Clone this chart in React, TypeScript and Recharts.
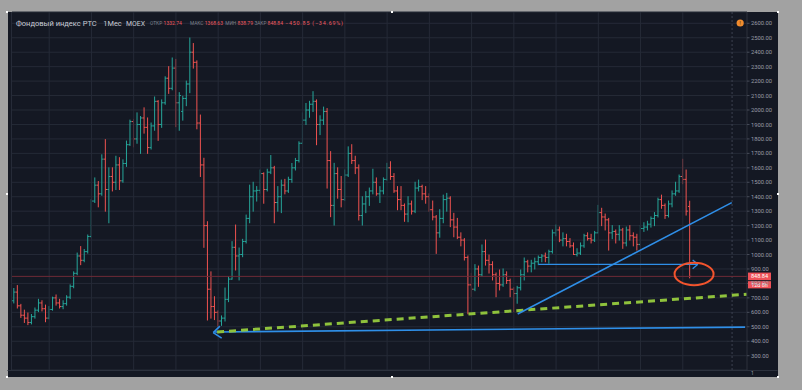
import React from "react";
import {
  ComposedChart,
  Bar,
  XAxis,
  YAxis,
  CartesianGrid,
  ReferenceLine,
  ReferenceDot,
} from "recharts";

// ---- Data: monthly OHLC bars [open, high, low, close], first bar = March 2004 ----
const START_YEAR = 2004;
const START_MONTH = 3;

const bars2004 = [
  [680, 765, 665, 740], [740, 785, 630, 645], [645, 655, 565, 580], [580, 615, 530, 560],
  [560, 595, 515, 530], [530, 585, 520, 570], [570, 630, 560, 615], [615, 690, 605, 665],
  [665, 680, 610, 625], [625, 650, 535, 560],
];
const bars2005 = [
  [560, 640, 555, 620], [620, 705, 615, 700], [700, 720, 650, 665], [665, 690, 630, 640],
  [640, 680, 625, 660], [660, 715, 650, 705], [705, 790, 695, 780], [780, 880, 770, 870],
  [870, 1010, 860, 990], [990, 1055, 930, 960], [960, 1035, 950, 1020], [1020, 1135, 1010, 1125],
];
const bars2006 = [
  [1125, 1380, 1120, 1370], [1370, 1530, 1360, 1480], [1480, 1505, 1330, 1420], [1420, 1690, 1410, 1660],
  [1660, 1795, 1300, 1450], [1450, 1600, 1220, 1540], [1540, 1600, 1440, 1500], [1500, 1680, 1450, 1620],
  [1620, 1670, 1450, 1510], [1510, 1655, 1500, 1630], [1630, 1785, 1610, 1760], [1760, 1930, 1755, 1920],
];
const bars2007 = [
  [1920, 1935, 1745, 1800], [1800, 1980, 1770, 1900], [1900, 1955, 1700, 1945], [1945, 2015, 1840, 1880],
  [1880, 1945, 1700, 1740], [1740, 1910, 1730, 1890], [1890, 2090, 1860, 2060], [2060, 2065, 1790, 1900],
  [1900, 2070, 1880, 2050], [2050, 2230, 2040, 2220], [2220, 2300, 2115, 2150], [2150, 2360, 2140, 2290],
];
const bars2008 = [
  [2290, 2350, 1885, 2050], [2050, 2120, 1860, 2100], [1990, 2095, 1930, 2080], [2080, 2200, 2030, 2180],
  [2180, 2498, 2120, 2400], [2400, 2460, 2290, 2330], [2330, 2340, 1870, 1910], [1910, 1965, 1540, 1620],
  [1620, 1666, 1050, 1200], [1200, 1227, 547, 760], [760, 880, 560, 640], [640, 708, 550, 600],
];
const bars2009 = [
  [600, 610, 505, 540], [540, 575, 510, 560], [560, 768, 540, 690], [690, 847, 674, 830],
  [830, 1089, 830, 1050], [1050, 1204, 893, 990], [990, 1045, 824, 1000], [1000, 1105, 985, 1090],
  [1090, 1273, 1080, 1250], [1250, 1480, 1220, 1400], [1400, 1500, 1300, 1440], [1440, 1470, 1370, 1444],
];
const bars2010 = [
  [1444, 1585, 1425, 1560], [1560, 1565, 1355, 1450], [1450, 1590, 1440, 1570], [1570, 1685, 1560, 1600],
  [1600, 1610, 1220, 1360], [1360, 1470, 1300, 1400], [1400, 1515, 1290, 1480], [1480, 1520, 1420, 1440],
  [1440, 1535, 1430, 1520], [1520, 1630, 1500, 1600], [1600, 1665, 1585, 1650], [1650, 1780, 1640, 1770],
];
const bars2011 = [
  [1770, 1980, 1770, 1930], [1930, 2045, 1900, 2000], [2000, 2060, 1950, 2040], [2040, 2127, 1990, 2060],
  [2060, 2070, 1760, 1900], [1900, 1960, 1830, 1930], [1930, 2020, 1900, 1990], [1990, 2010, 1460, 1650],
  [1650, 1712, 1262, 1340], [1340, 1631, 1204, 1560], [1560, 1600, 1390, 1450], [1450, 1540, 1330, 1380],
];
const bars2012 = [
  [1380, 1585, 1375, 1550], [1550, 1745, 1540, 1700], [1700, 1760, 1630, 1650], [1650, 1680, 1560, 1600],
  [1600, 1620, 1239, 1270], [1270, 1400, 1204, 1350], [1350, 1435, 1290, 1400], [1400, 1460, 1340, 1440],
  [1440, 1590, 1420, 1500], [1500, 1530, 1410, 1420], [1420, 1470, 1360, 1440], [1440, 1530, 1420, 1520],
];
const bars2013 = [
  [1520, 1631, 1515, 1600], [1600, 1642, 1520, 1540], [1540, 1560, 1430, 1440], [1440, 1470, 1310, 1380],
  [1380, 1470, 1310, 1340], [1340, 1350, 1230, 1280], [1280, 1400, 1227, 1350], [1350, 1370, 1280, 1300],
  [1300, 1500, 1290, 1460], [1460, 1515, 1440, 1470], [1470, 1480, 1380, 1420], [1420, 1470, 1355, 1400],
];
const bars2014 = [
  [1400, 1420, 1300, 1310], [1310, 1370, 1240, 1260], [1260, 1270, 1008, 1150], [1150, 1310, 1120, 1250],
  [1250, 1411, 1220, 1380], [1380, 1423, 1300, 1390], [1390, 1400, 1193, 1240], [1240, 1285, 1123, 1190],
  [1190, 1250, 1110, 1120], [1120, 1150, 1060, 1100], [1100, 1110, 962, 980], [980, 990, 590, 790],
];
const bars2015 = [
  [790, 870, 710, 760], [760, 930, 750, 900], [900, 920, 780, 860], [860, 1066, 850, 1020],
  [1020, 1100, 927, 960], [960, 996, 872, 930], [930, 950, 824, 860], [860, 872, 708, 800],
  [800, 893, 755, 790], [790, 900, 780, 860], [860, 880, 800, 820], [820, 830, 708, 760],
];
const bars2016 = [
  [760, 770, 605, 730], [730, 780, 663, 770], [770, 893, 755, 860], [860, 976, 824, 950],
  [950, 960, 880, 920], [920, 960, 880, 940], [940, 975, 900, 950], [950, 990, 930, 980],
  [980, 1000, 950, 990], [990, 1010, 950, 980], [980, 1030, 940, 1020], [1020, 1170, 1010, 1150],
];
const bars2017 = [
  [1150, 1204, 1130, 1170], [1170, 1190, 1089, 1100], [1100, 1150, 1060, 1110], [1110, 1140, 1060, 1090],
  [1090, 1110, 1050, 1060], [1060, 1080, 1000, 1000], [1000, 1040, 990, 1010], [1010, 1080, 1000, 1060],
  [1060, 1140, 1050, 1130], [1130, 1150, 1100, 1110], [1110, 1140, 1080, 1100], [1100, 1160, 1090, 1150],
];
const bars2018 = [
  [1150, 1340, 1150, 1290], [1290, 1320, 1200, 1260], [1260, 1280, 1170, 1240], [1240, 1250, 1031, 1150],
  [1150, 1200, 1110, 1160], [1160, 1170, 1080, 1140], [1140, 1200, 1100, 1170], [1170, 1181, 1043, 1080],
  [1080, 1190, 1060, 1170], [1170, 1200, 1100, 1130], [1130, 1150, 1060, 1120], [1120, 1140, 1031, 1070],
];
const bars2019 = [
  [1070, 1200, 1060, 1180], [1180, 1220, 1160, 1190], [1190, 1230, 1170, 1210], [1210, 1260, 1190, 1250],
  [1250, 1290, 1200, 1270], [1270, 1390, 1260, 1380], [1380, 1411, 1320, 1340], [1340, 1350, 1250, 1270],
  [1270, 1370, 1260, 1350], [1350, 1440, 1330, 1420], [1420, 1500, 1410, 1440], [1440, 1550, 1430, 1540],
];
const bars2020 = [
  [1540, 1659, 1490, 1520], [1520, 1585, 1273, 1300], [1332.74, 1368.63, 838.79, 848.84],
];

const priceTicks = [
  300, 400, 500, 600, 700, 800, 900, 1000, 1100, 1200, 1300, 1400, 1500,
  1600, 1700, 1800, 1900, 2000, 2100, 2200, 2300, 2400, 2500, 2600,
];

const LAST_PRICE = 848.84;
const TIMER_TEXT = "12d 8h";

// header texts
const headerTitle = [
  { text: "Фондовый индекс РТС", x0: 16, x1: 96.7 },
  { text: "1Мес", x0: 103.3, x1: 121.7 },
  { text: "MOEX", x0: 126, x1: 145 },
];
// label (grey) and value (red) pairs: [label, labelX, value, valueX]
const headerOhlc: [string, number, string, number][] = [
  ["ОТКР", 150, "1332.74", 163.6],
  ["МАКС", 190, "1368.63", 204.8],
  ["МИН", 225.2, "838.79", 237.6],
  ["ЗАКР", 254.4, "848.84", 267.6],
];
const headerChange = "−450.85 (−34.69%)";

// drawn annotations (in data coordinates: bar index, price)
const BLUE = "#2f8fe8";
const GREEN = "#8fc23c";
const trendLines = [
  { from: [57.1, 464], to: [207.7, 498], color: BLUE, width: 1.6, dash: undefined },
  { from: [56.6, 460], to: [58.5, 505], color: BLUE, width: 1.6, dash: undefined },
  { from: [56.6, 460], to: [59.0, 421], color: BLUE, width: 1.6, dash: undefined },
  { from: [57.7, 464], to: [208.2, 725], color: GREEN, width: 3, dash: "7 5" },
  { from: [143.1, 588], to: [203.9, 1359], color: BLUE, width: 1.6, dash: undefined },
  { from: [149.0, 932], to: [194.3, 932], color: BLUE, width: 1.3, dash: undefined },
  { from: [194.3, 932], to: [192.8, 962], color: BLUE, width: 1.3, dash: undefined },
  { from: [194.3, 932], to: [192.8, 902], color: BLUE, width: 1.3, dash: undefined },
];
const circleMark = { x: 193.2, y: 865 };
const FUTURE_LINE_X = 204;
const EVENT_MARK = { x: 206.3, y: 2602 };

// ---- build chart data ----
const allBars = [
  ...bars2004, ...bars2005, ...bars2006, ...bars2007, ...bars2008, ...bars2009,
  ...bars2010, ...bars2011, ...bars2012, ...bars2013, ...bars2014, ...bars2015,
  ...bars2016, ...bars2017, ...bars2018, ...bars2019, ...bars2020,
];
const data = allBars.map((b, i) => {
  const m0 = START_MONTH - 1 + i;
  const year = START_YEAR + Math.floor(m0 / 12);
  const month = (m0 % 12) + 1;
  return { i, year, month, o: b[0], h: b[1], l: b[2], c: b[3], range: [b[2], b[1]] };
});
const yearStartIdx = data.filter((d) => d.month === 1).map((d) => d.i);

const X_DOMAIN: [number, number] = [-0.568, 208.24];
const Y_DOMAIN: [number, number] = [201.0, 2678.2];

const UP = "#26a69a";
const DOWN = "#ef5350";

const OhlcShape = (props: any) => {
  const { x, y, width, height, payload } = props;
  if (!payload || x == null || y == null) return null;
  const top = Math.min(y, y + height);
  const bot = Math.max(y, y + height);
  const span = payload.h - payload.l || 1;
  const py = (v: number) => top + ((payload.h - v) / span) * (bot - top);
  const cx = x + width / 2;
  const color = payload.c >= payload.o ? UP : DOWN;
  return (
    <g stroke={color} strokeWidth={1}>
      <line x1={cx} x2={cx} y1={top - 0.5} y2={bot + 0.5} />
      <line x1={cx - 1.7} x2={cx} y1={py(payload.o)} y2={py(payload.o)} />
      <line x1={cx} x2={cx + 1.7} y1={py(payload.c)} y2={py(payload.c)} />
    </g>
  );
};

const PriceTags = (props: any) => {
  const { cx, cy } = props;
  if (cx == null || cy == null) return null;
  const x = cx + 1;
  return (
    <g>
      <rect x={x} y={cy - 3.8} width={23} height={7.6} fill="#ef5158" />
      <text x={x + 11.5} y={cy + 2} fontSize={5.6} fill="#ffffff" textAnchor="middle" fontFamily="Roboto">
        {LAST_PRICE.toFixed(2)}
      </text>
      <rect x={x} y={cy + 4.8} width={23} height={7.2} fill="#ef5158" />
      <text x={x + 11.5} y={cy + 10.4} fontSize={5.4} fill="#ffffff" textAnchor="middle" fontFamily="Roboto">
        {TIMER_TEXT}
      </text>
    </g>
  );
};

const handles = [
  [7, 12], [392, 12], [778, 12], [7, 194], [778, 194], [7, 377], [392, 377], [778, 377],
];

export default function App() {
  return (
    <div
      style={{
        position: "absolute",
        left: 0,
        top: 0,
        width: 802,
        height: 390,
        background: "#a2a2a2",
        overflow: "hidden",
      }}
    >
      <div
        style={{
          position: "absolute",
          left: 7.5,
          top: 12,
          width: 770,
          height: 365,
          background: "#141823",
        }}
      />
      <div style={{ position: "absolute", left: 0, top: 0 }}>
        <ComposedChart
          width={802}
          height={390}
          data={data}
          margin={{ top: 12, right: 25, bottom: 20, left: 12 }}
        >
          <CartesianGrid vertical={false} stroke="#252a37" strokeWidth={1} />
          <XAxis
            type="number"
            dataKey="i"
            domain={X_DOMAIN}
            allowDataOverflow
            hide
          />
          <YAxis
            orientation="right"
            width={30}
            domain={Y_DOMAIN}
            allowDataOverflow
            ticks={priceTicks}
            interval={0}
            tickFormatter={(v: number) => v.toFixed(2)}
            tick={{ fill: "#9a9da7", fontSize: 5.8, fontFamily: "Roboto" }}
            tickSize={2.5}
            tickMargin={1.5}
            axisLine={{ stroke: "#2c313d" }}
            tickLine={{ stroke: "#464b58" }}
          />
          {yearStartIdx.map((i) => (
            <ReferenceLine key={"g" + i} x={i} stroke="#252a37" strokeWidth={1} />
          ))}
          <ReferenceLine
            x={FUTURE_LINE_X}
            stroke="#3d4250"
            strokeWidth={1}
            strokeDasharray="2 2"
          />
          <ReferenceLine y={LAST_PRICE} stroke="#6e2a36" strokeWidth={1} />
          <Bar
            dataKey="range"
            barSize={4}
            isAnimationActive={false}
            shape={(p: any) => <OhlcShape {...p} />}
          />
          {trendLines.map((t, k) => (
            <ReferenceLine
              key={"t" + k}
              segment={[
                { x: t.from[0], y: t.from[1] },
                { x: t.to[0], y: t.to[1] },
              ]}
              stroke={t.color}
              strokeWidth={t.width}
              strokeDasharray={t.dash}
              ifOverflow="visible"
            />
          ))}
          <ReferenceDot
            x={circleMark.x}
            y={circleMark.y}
            r={10}
            ifOverflow="visible"
            shape={(p: any) => (
              <ellipse
                cx={p.cx}
                cy={p.cy}
                rx={19.5}
                ry={11.2}
                fill="none"
                stroke="#f2542d"
                strokeWidth={2}
              />
            )}
          />
          <ReferenceDot
            x={EVENT_MARK.x}
            y={EVENT_MARK.y}
            r={3.6}
            ifOverflow="visible"
            shape={(p: any) => (
              <g>
                <circle cx={p.cx} cy={p.cy} r={3.6} fill="#f08c2e" />
                <text x={p.cx} y={p.cy + 1.8} fontSize={5} fill="#3a2000" textAnchor="middle" fontFamily="Roboto">!</text>
              </g>
            )}
          />
          <ReferenceDot
            x={X_DOMAIN[1]}
            y={LAST_PRICE}
            r={1}
            ifOverflow="visible"
            shape={(p: any) => <PriceTags {...p} />}
          />
        </ComposedChart>
      </div>
      <svg
        width={802}
        height={390}
        style={{ position: "absolute", left: 0, top: 0, pointerEvents: "none" }}
      >
        <line x1={11.5} x2={11.5} y1={12} y2={370} stroke="#262b38" />
        <line x1={7.5} x2={777.5} y1={370.5} y2={370.5} stroke="#2c313d" />
        <text x={751} y={375} fontSize={5} fill="#9a9da7" fontFamily="Roboto">1</text>
        {headerTitle.map((h, k) => (
          <text
            key={"h" + k}
            x={h.x0}
            y={25.5}
            fontSize={6.6}
            fill="#c9ccd6"
            fontFamily="Roboto"
            textLength={h.x1 - h.x0}
            lengthAdjust="spacingAndGlyphs"
          >
            {h.text}
          </text>
        ))}
        {headerOhlc.map((h, k) => (
          <g key={"o" + k}>
            <text x={h[1]} y={25.3} fontSize={4.8} fill="#7d808b" fontFamily="Roboto">
              {h[0]}
            </text>
            <text x={h[3]} y={25.3} fontSize={5} fill="#ef5a60" fontFamily="Roboto">
              {h[2]}
            </text>
          </g>
        ))}
        <text
          x={285}
          y={25.3}
          fontSize={5.4}
          fill="#ef5a60"
          fontFamily="Roboto"
          textLength={58}
          lengthAdjust="spacing"
        >
          {headerChange}
        </text>
        {handles.map((p, k) => (
          <rect key={k} x={p[0] - 1} y={p[1] - 1} width={2} height={2} fill="#ffffff" />
        ))}
      </svg>
    </div>
  );
}
